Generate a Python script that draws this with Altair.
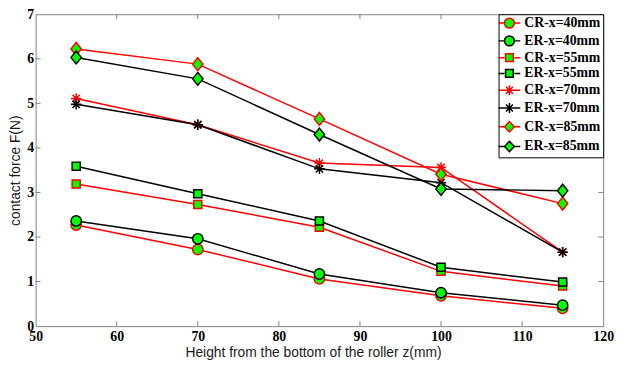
import altair as alt
import pandas as pd

z = [55, 70, 85, 100, 115]
CR40 = [2.27, 1.72, 1.06, 0.68, 0.40]
ER40 = [2.36, 1.96, 1.17, 0.75, 0.47]
CR55 = [3.19, 2.73, 2.22, 1.23, 0.90]
ER55 = [3.59, 2.97, 2.36, 1.32, 0.99]
CR70 = [5.11, 4.52, 3.66, 3.56, 1.66]
ER70 = [4.98, 4.52, 3.53, 3.22, 1.66]
CR85 = [6.22, 5.88, 4.65, 3.41, 2.75]
ER85 = [6.03, 5.55, 4.30, 3.08, 3.04]

names = ["CR-x=40mm", "ER-x=40mm", "CR-x=55mm", "ER-x=55mm",
         "CR-x=70mm", "ER-x=70mm", "CR-x=85mm", "ER-x=85mm"]
series = [CR40, ER40, CR55, ER55, CR70, ER70, CR85, ER85]
strokes = ["#ff0000", "#000000"] * 4

x_ticks = [60, 70, 80, 90, 100, 110]
y_ticks = [1, 2, 3, 4, 5, 6]

CIRCLE = "M1,0A1,1 0 1,1 -1,0A1,1 0 1,1 1,0Z"
SQUARE = "M-0.78,-0.78H0.78V0.78H-0.78Z"
STAR = "M-1,0H1M0,-1V1M-0.7,-0.7L0.7,0.7M-0.7,0.7L0.7,-0.7"
DIAMOND = "M-1,0L0,-1.25L1,0L0,1.25Z"
DIAMOND_LEG = "M-1,0L0,-1.05L1,0L0,1.05Z"
plot_shapes = [CIRCLE, CIRCLE, SQUARE, SQUARE, STAR, STAR, DIAMOND, DIAMOND]
leg_marks = [CIRCLE, CIRCLE, SQUARE, SQUARE, STAR, STAR, DIAMOND_LEG, DIAMOND_LEG]
STUBS = "M-2.2,0H-1M1,0H2.2"
STUBS_STAR = "M-2.2,0H2.2"
legend_shapes = [
    (STUBS_STAR if s == STAR else STUBS) + s for s in leg_marks
]

rows = []
for n, vals in zip(names, series):
    for zz, v in zip(z, vals):
        rows.append({"z": zz, "F": v, "series": n})
df = pd.DataFrame(rows)

W, H = 575, 316

xs = alt.Scale(domain=[50, 120], nice=False, zero=False)
ys = alt.Scale(domain=[0, 7], nice=False)

x_enc = alt.X("z:Q", scale=xs,
              axis=alt.Axis(values=list(range(50, 121, 10)), tickSize=0, domain=False,
                            grid=False, labelFlush=False, labelPadding=4,
                            labelFont="Liberation Serif", labelFontWeight="bold",
                            labelFontSize=14, labelColor="#000000",
                            title="Height from the bottom of the roller z(mm)",
                            titleFont="Liberation Sans", titleFontWeight="normal",
                            titleFontSize=14, titleColor="#1a1a1a", titlePadding=2,
                            titleX=281, titleAlign="center"))
y_enc = alt.Y("F:Q", scale=ys,
              axis=alt.Axis(values=list(range(0, 8)), tickSize=0, domain=False,
                            grid=False, labelPadding=2,
                            labelFont="Liberation Serif", labelFontWeight="bold",
                            labelFontSize=14, labelColor="#000000",
                            title="contact force F(N)",
                            titleFont="Liberation Sans", titleFontWeight="normal",
                            titleFontSize=14, titleColor="#1a1a1a", titlePadding=4))

stroke_scale = alt.Scale(domain=names, range=strokes)

lines = alt.Chart(df).mark_line(strokeWidth=1.5).encode(
    x=x_enc, y=y_enc,
    stroke=alt.Stroke("series:N", scale=stroke_scale, legend=None),
    detail="series:N",
)

points = alt.Chart(df).mark_point(filled=False, strokeWidth=1.5, opacity=1, size=110).encode(
    x="z:Q", y="F:Q",
    stroke=alt.Stroke("series:N", scale=stroke_scale, legend=None),
    shape=alt.Shape("series:N", scale=alt.Scale(domain=names, range=plot_shapes), legend=None),
    fill=alt.value("#00ff00"),
)

legend_layer = alt.Chart(df).transform_filter("datum.F < -100").mark_point(
    filled=False, strokeWidth=1.5, opacity=1, size=100
).encode(
    x="z:Q", y="F:Q",
    stroke=alt.Stroke("series2:N", scale=alt.Scale(domain=names, range=strokes), legend=alt.Legend(title=None)),
    shape=alt.Shape("series2:N", scale=alt.Scale(domain=names, range=legend_shapes), legend=alt.Legend(title=None)),
    fill=alt.value("#00ff00"),
).transform_calculate(series2="datum.series")

tx = pd.DataFrame({"v": x_ticks})
ty = pd.DataFrame({"v": y_ticks})
tick_col = "#808080"
tb = alt.Chart(tx).mark_rule(color=tick_col, strokeWidth=1).encode(
    x=alt.X("v:Q", scale=xs), y=alt.value(H), y2=alt.value(H - 5))
tt = alt.Chart(tx).mark_rule(color=tick_col, strokeWidth=1).encode(
    x=alt.X("v:Q", scale=xs), y=alt.value(0), y2=alt.value(5))
tl = alt.Chart(ty).mark_rule(color=tick_col, strokeWidth=1).encode(
    y=alt.Y("v:Q", scale=ys), x=alt.value(0), x2=alt.value(5))
tr = alt.Chart(ty).mark_rule(color=tick_col, strokeWidth=1).encode(
    y=alt.Y("v:Q", scale=ys), x=alt.value(W), x2=alt.value(W - 5))

chart = alt.layer(tb, tt, tl, tr, lines, points, legend_layer).resolve_scale(
    stroke="independent", shape="independent"
).properties(
    width=W, height=H,
    autosize=alt.AutoSizeParams(type="none"),
    padding={"left": 28, "top": 4, "right": 14, "bottom": 32},
).configure_view(
    stroke="#808080", strokeWidth=1
).configure_legend(
    orient="top-right", offset=0, padding=2,
    strokeColor="#000000", fillColor="#ffffff",
    labelFont="Liberation Serif", labelFontWeight="bold", labelFontSize=14,
    labelColor="#000000", symbolOffset=2, labelOffset=8, rowPadding=2,
    columnPadding=0,
    symbolFillColor="#00ff00", symbolStrokeWidth=1.5, symbolSize=100,
    cornerRadius=0,
)

chart.save("out.html", embed_options={"renderer": "svg", "actions": False})
